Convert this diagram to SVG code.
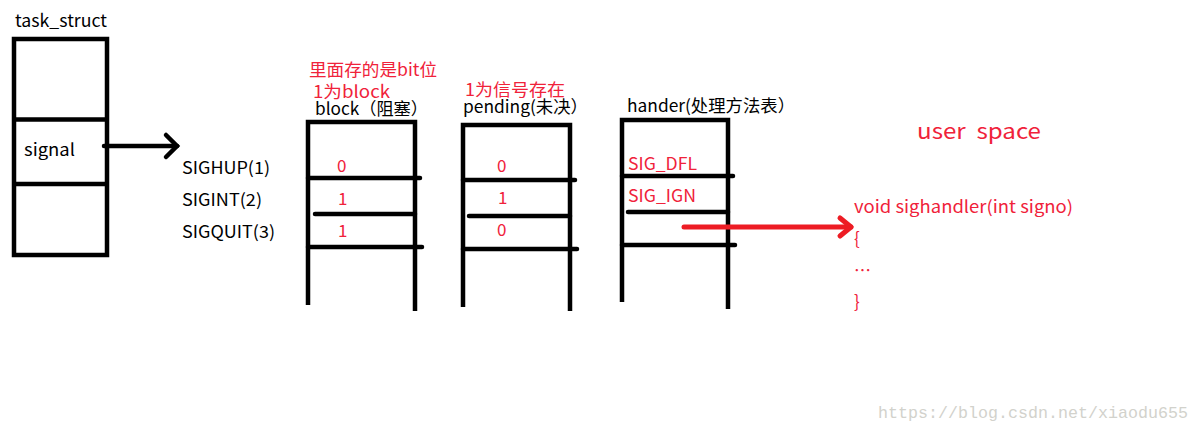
<svg xmlns="http://www.w3.org/2000/svg" width="1199" height="432" viewBox="0 0 1199 432">
<style>
.t{font-family:"Noto Sans CJK SC","Noto Sans",sans-serif;font-size:17px;fill:#000}
.r{fill:#f0223a}
.ln{stroke:#000;stroke-width:4.5;fill:none;stroke-linecap:round}
.rl{stroke:#ed1c24;stroke-width:5;fill:none;stroke-linecap:round;stroke-linejoin:round}
.wm{font-family:"Liberation Mono",monospace;font-size:16.6px;fill:#d2d2cc}
</style>
<rect width="1199" height="432" fill="#fff"/>
<g id="task_struct">
<text class="t" x="15" y="27" textLength="92" lengthAdjust="spacingAndGlyphs">task_struct</text>
<rect x="14" y="39" width="93" height="216" class="ln" style="stroke-linecap:butt"/>
<line x1="14" y1="119.5" x2="107" y2="119.5" class="ln" style="stroke-linecap:butt"/>
<line x1="14" y1="184" x2="107" y2="184" class="ln" style="stroke-linecap:butt"/>
<text class="t" x="24" y="156" textLength="51" lengthAdjust="spacingAndGlyphs">signal</text>
</g>
<g id="signals">
<text class="t" x="182" y="174" textLength="88" lengthAdjust="spacingAndGlyphs">SIGHUP(1)</text>
<text class="t" x="182" y="206" textLength="80" lengthAdjust="spacingAndGlyphs">SIGINT(2)</text>
<text class="t" x="182" y="238" textLength="93" lengthAdjust="spacingAndGlyphs">SIGQUIT(3)</text>
</g>
<g id="block">
<text class="t r" x="309" y="76" textLength="128" lengthAdjust="spacingAndGlyphs">里面存的是bit位</text>
<text class="t r" x="313" y="98" textLength="77" lengthAdjust="spacingAndGlyphs">1为block</text>
<text class="t" x="315" y="115" textLength="113" lengthAdjust="spacingAndGlyphs">block（阻塞）</text>
<polyline points="308,305 308,122 415,122 415,311" class="ln" style="stroke-linecap:butt"/>
<line x1="308" y1="178" x2="420" y2="178" class="ln"/>
<line x1="315" y1="214" x2="415" y2="214" class="ln"/>
<line x1="308" y1="247" x2="422" y2="247" class="ln"/>
<text class="t r" x="337" y="172">0</text>
<text class="t r" x="338" y="205">1</text>
<text class="t r" x="338" y="237">1</text>
</g>
<g id="pending">
<text class="t r" x="465" y="96" textLength="100" lengthAdjust="spacingAndGlyphs">1为信号存在</text>
<text class="t" x="463" y="113" textLength="125" lengthAdjust="spacingAndGlyphs">pending(未决）</text>
<polyline points="463,307 463,125 570,125 570,311" class="ln" style="stroke-linecap:butt"/>
<line x1="463" y1="180" x2="575" y2="180" class="ln"/>
<line x1="469" y1="216" x2="570" y2="216" class="ln"/>
<line x1="463" y1="249" x2="577" y2="249" class="ln"/>
<text class="t r" x="497" y="172">0</text>
<text class="t r" x="498" y="204">1</text>
<text class="t r" x="497" y="236">0</text>
</g>
<g id="hander">
<text class="t" x="627" y="112" textLength="168" lengthAdjust="spacingAndGlyphs">hander(处理方法表）</text>
<polyline points="622,302 622,120 728,120 728,309" class="ln" style="stroke-linecap:butt"/>
<line x1="622" y1="176" x2="733" y2="176" class="ln"/>
<line x1="628" y1="212" x2="728" y2="212" class="ln"/>
<line x1="622" y1="245" x2="735" y2="245" class="ln"/>
<text class="t r" x="628" y="170" textLength="69" lengthAdjust="spacingAndGlyphs">SIG_DFL</text>
<text class="t r" x="628" y="202" textLength="68" lengthAdjust="spacingAndGlyphs">SIG_IGN</text>
</g>
<g id="userspace">
<text class="t r" x="917" y="139" style="font-size:21px" textLength="124" lengthAdjust="spacingAndGlyphs" xml:space="preserve">user  space</text>
<text class="t r" x="854" y="213" textLength="219" lengthAdjust="spacingAndGlyphs">void sighandler(int signo)</text>
<text class="t r" x="854" y="245">{</text>
<text class="t r" x="854" y="277">…</text>
<text class="t r" x="854" y="308">}</text>
</g>
<g id="connectors">
<line x1="104" y1="146" x2="177" y2="146" class="ln"/>
<polyline points="166,135 177,146 166,157" class="ln" style="stroke-linejoin:miter"/>
<line x1="684" y1="227" x2="851" y2="227" class="rl"/>
<polyline points="840,218 851,227 840,236" class="rl"/>
</g>
<text class="wm" x="878" y="418" textLength="310" lengthAdjust="spacingAndGlyphs">https://blog.csdn.net/xiaodu655</text>
</svg>
